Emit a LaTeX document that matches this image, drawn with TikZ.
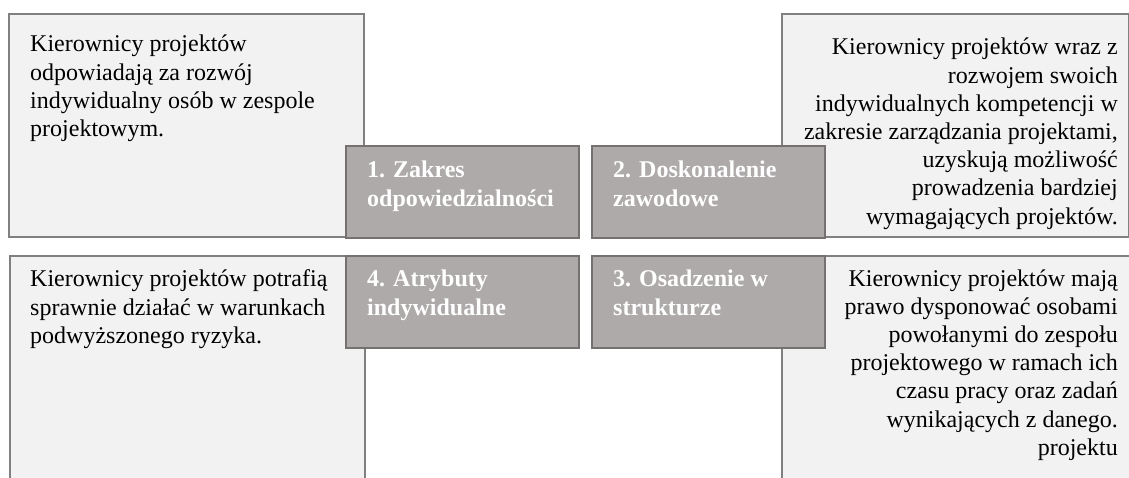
\documentclass[tikz,border=0pt]{standalone}
\usepackage{fontspec}
\setmainfont{Liberation Serif}
\definecolor{lightfill}{HTML}{F2F2F2}
\definecolor{lightline}{HTML}{808080}
\definecolor{darkfill}{HTML}{AEAAAA}
\definecolor{darkline}{HTML}{767171}
\begin{document}
\begin{tikzpicture}[x=1pt,y=-1pt,
  lightbox/.style={draw=lightline, fill=lightfill, line width=2pt, anchor=north west, inner sep=0pt},
  darkbox/.style={draw=darkline, fill=darkfill, line width=2.2pt, anchor=north west, inner sep=0pt, minimum width=233pt, minimum height=92pt},
  bodytext/.style={inner sep=0pt, font=\fontsize{24}{28.2}\selectfont},
  headtext/.style={inner sep=0pt, font=\fontsize{24}{28.2}\selectfont\bfseries, text=white, anchor=base west}]
\useasboundingbox (0,0) rectangle (1129,478);
\clip (0,0) rectangle (1129,478);
% light boxes
\node[lightbox, minimum width=355pt, minimum height=223pt] (tl) at (8,13) {};
\node[lightbox, minimum width=347pt, minimum height=223pt] (tr) at (781,13) {};
\node[lightbox, minimum width=355pt, minimum height=240pt] (bl) at (9,255) {};
\node[lightbox, minimum width=360pt, minimum height=240pt] (br) at (781,255) {};
% dark boxes
\node[darkbox] (d1) at (345,145) {};
\node[darkbox] (d2) at (591,145) {};
\node[darkbox] (d4) at (345,255) {};
\node[darkbox] (d3) at (591,255) {};
% body texts
\node[bodytext, anchor=base west] (ttl) at (30,52) {\begin{tabular}[t]{@{}l@{}}Kierownicy projektów\\odpowiadają za rozwój\\indywidualny osób w zespole\\projektowym.\end{tabular}};
\node[bodytext, anchor=base east] (ttr) at (1118,55) {\begin{tabular}[t]{@{}r@{}}Kierownicy projektów wraz z\\rozwojem swoich\\indywidualnych kompetencji w\\zakresie zarządzania projektami,\\uzyskują możliwość\\prowadzenia bardziej\\wymagających projektów.\end{tabular}};
\node[bodytext, anchor=base west] (tbl) at (30,287) {\begin{tabular}[t]{@{}l@{}}Kierownicy projektów potrafią\\sprawnie działać w warunkach\\podwyższonego ryzyka.\end{tabular}};
\node[bodytext, anchor=base east] (tbr) at (1118,286) {\begin{tabular}[t]{@{}r@{}}Kierownicy projektów mają\\prawo dysponować osobami\\powołanymi do zespołu\\projektowego w ramach ich\\czasu pracy oraz zadań\\wynikających z danego.\\projektu\end{tabular}};
% heading texts
\node[headtext] (h1) at (367,178) {\begin{tabular}[t]{@{}l@{}}1. Zakres\\odpowiedzialności\end{tabular}};
\node[headtext] (h2) at (613,178) {\begin{tabular}[t]{@{}l@{}}2. Doskonalenie\\zawodowe\end{tabular}};
\node[headtext] (h4) at (367,287) {\begin{tabular}[t]{@{}l@{}}4. Atrybuty\\indywidualne\end{tabular}};
\node[headtext] (h3) at (613,287) {\begin{tabular}[t]{@{}l@{}}3. Osadzenie w\\strukturze\end{tabular}};
\end{tikzpicture}
\end{document}
